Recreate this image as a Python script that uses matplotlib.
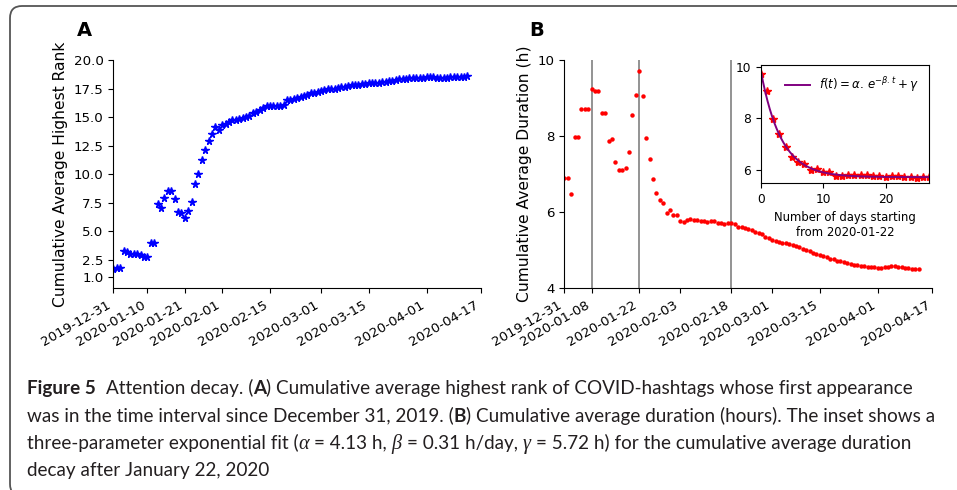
import numpy as np
import pandas as pd
import matplotlib
matplotlib.use("Agg")
import matplotlib.pyplot as plt
import matplotlib.dates as mdates
from matplotlib.patches import FancyBboxPatch
from matplotlib.transforms import IdentityTransform

# data (one value per day, starting 2019-12-31)
start = "2019-12-31"
rank = [1.69, 1.75, 1.80, 3.24, 3.20, 3.03, 3.03, 3.00, 2.90, 2.77,
        2.77, 3.94, 3.94, 7.38, 7.06, 7.93, 8.54, 8.54, 7.78, 6.68,
        6.59, 6.15, 6.73, 7.55, 9.15, 10.03, 11.25, 12.10, 12.86, 13.50,
        14.11, 13.88, 14.29, 14.40, 14.60, 14.75, 14.75, 14.85, 14.95, 15.00,
        15.05, 15.35, 15.40, 15.60, 15.75, 15.98, 16.00, 15.98, 16.00, 15.98,
        16.10, 16.50, 16.52, 16.55, 16.65, 16.75, 16.85, 16.95, 17.08, 17.12,
        17.20, 17.30, 17.35, 17.42, 17.45, 17.50, 17.55, 17.62, 17.65, 17.70,
        17.78, 17.82, 17.85, 17.88, 17.90, 17.95, 17.98, 18.00, 18.02, 18.05,
        18.10, 18.12, 18.15, 18.25, 18.30, 18.32, 18.35, 18.38, 18.40, 18.42,
        18.45, 18.46, 18.48, 18.50, 18.48, 18.45, 18.43, 18.42, 18.45, 18.48,
        18.50, 18.52, 18.53, 18.55, 18.57]
duration = [6.89, 6.89, 6.48, 7.98, 7.98, 8.72, 8.72, 8.72, 9.24, 9.19,
            9.19, 8.60, 8.60, 7.88, 7.93, 7.31, 7.10, 7.10, 7.15, 7.57,
            8.56, 9.09, 9.71, 9.05, 7.96, 7.39, 6.87, 6.50, 6.31, 6.23,
            5.99, 6.05, 5.93, 5.93, 5.78, 5.75, 5.80, 5.81, 5.80, 5.79,
            5.78, 5.76, 5.74, 5.77, 5.77, 5.72, 5.71, 5.70, 5.71, 5.72,
            5.70, 5.62, 5.60, 5.58, 5.55, 5.52, 5.48, 5.45, 5.43, 5.36,
            5.32, 5.28, 5.25, 5.22, 5.20, 5.18, 5.16, 5.14, 5.11, 5.08,
            5.04, 5.00, 4.97, 4.94, 4.91, 4.88, 4.84, 4.81, 4.78, 4.76,
            4.73, 4.71, 4.68, 4.66, 4.63, 4.61, 4.60, 4.59, 4.58, 4.57,
            4.56, 4.55, 4.54, 4.54, 4.55, 4.56, 4.58, 4.58, 4.57, 4.56,
            4.54, 4.53, 4.52, 4.51, 4.51]

ticks_a = ["2019-12-31", "2020-01-10", "2020-01-21", "2020-02-01", "2020-02-15",
           "2020-03-01", "2020-03-15", "2020-04-01", "2020-04-17"]
ticks_b = ["2019-12-31", "2020-01-08", "2020-01-22", "2020-02-03", "2020-02-18",
           "2020-03-01", "2020-03-15", "2020-04-01", "2020-04-17"]
yticks_a = [1.0, 2.5, 5.0, 7.5, 10.0, 12.5, 15.0, 17.5, 20.0]
yticks_b = [4, 6, 8, 10]
marks_b = ["2020-01-08", "2020-01-22", "2020-02-18"]
fit_start = "2020-01-22"
fit_days = 27
alpha, beta, gamma = 4.13, 0.31, 5.72

dates = pd.date_range(start, periods=len(rank), freq="D")
plt.rcParams["font.size"] = 9.6
plt.rcParams["axes.labelsize"] = 11.2

fig = plt.figure(figsize=(9.57, 4.9), dpi=100)

def date_axis(ax, ticks):
    ax.set_xlim(pd.Timestamp(ticks[0]), pd.Timestamp(ticks[-1]))
    ax.set_xticks(pd.to_datetime(ticks))
    ax.xaxis.set_major_formatter(mdates.DateFormatter("%Y-%m-%d"))
    for lab in ax.get_xticklabels():
        lab.set_rotation(30)
        lab.set_ha("right")
    ax.spines["top"].set_visible(False)
    ax.spines["right"].set_visible(False)

# panel A
axA = fig.add_axes([0.1184, 0.4116, 0.3842, 0.466])
axA.plot(dates, rank, ls="none", marker="*", ms=5.5, color="blue")
date_axis(axA, ticks_a)
axA.set_ylim(0, 20)
axA.set_yticks(yticks_a)
axA.set_ylabel("Cumulative Average Highest Rank")
fig.text(77 / 957, 1 - 30 / 490, "A", fontsize=14, fontweight="bold", va="center")

# panel B
axB = fig.add_axes([0.5897, 0.4116, 0.3845, 0.466])
for d in marks_b:
    axB.axvline(pd.Timestamp(d), color="grey", lw=1.2)
axB.plot(dates, duration, ls="none", marker="o", ms=3.2, mew=0, color="red")
date_axis(axB, ticks_b)
axB.set_ylim(4, 10)
axB.set_yticks(yticks_b)
axB.set_ylabel("Cumulative Average Duration (h)")
fig.text(529 / 957, 1 - 30 / 490, "B", fontsize=14, fontweight="bold", va="center")

# inset: decay after fit_start with exponential fit
i0 = list(dates).index(pd.Timestamp(fit_start))
t = np.arange(fit_days + 1)
y_in = duration[i0:i0 + fit_days + 1]
tf = np.linspace(0, fit_days, 300)
axI = fig.add_axes([0.7949, 0.6265, 0.1762, 0.2408])
axI.plot(t, y_in, ls="none", marker="*", ms=6, color="red")
axI.plot(tf, alpha * np.exp(-beta * tf) + gamma, color="purple", lw=1.4,
         label=r"$f(t) = \alpha.\, e^{-\beta.t} + \gamma$")
axI.set_xlim(0, fit_days)
axI.set_xticks([0, 10, 20])
axI.set_yticks([6, 8, 10])
axI.tick_params(labelsize=8.8)
axI.set_xlabel("Number of days starting\nfrom 2020-01-22", fontsize=8.4)
axI.legend(loc="upper right", frameon=False, handlelength=2.1, fontsize=8.5)

# rounded frame
frame = FancyBboxPatch((10, -6), 1000, 490, boxstyle="round,pad=0,rounding_size=12",
                       transform=IdentityTransform(), fill=False, ec="#555555", lw=1.3)
fig.patches.append(frame)

# caption, written run by run
cap_font = "Lato"
cap_size = 13.6
cap_color = "#231f20"
renderer = fig.canvas.get_renderer()

def text_w(s, **kw):
    tt = fig.text(0, 0, s, **kw)
    w = tt.get_window_extent(renderer).width
    tt.remove()
    return w

base = dict(family=cap_font, fontsize=cap_size, color=cap_color)
bold = dict(family=cap_font, fontsize=cap_size, fontweight="bold", color=cap_color)
greek = dict(family="Liberation Serif", fontsize=cap_size + 1, style="italic", color=cap_color)
sp = text_w("n n", **base) - text_w("nn", **base)

lines = [
    [("Figure 5", bold), 2, ("Attention decay. (", base), ("A", bold),
     (") Cumulative average highest rank of COVID-hashtags whose first appearance", base)],
    [("was in the time interval since December 31, 2019. (", base), ("B", bold),
     (") Cumulative average duration (hours). The inset shows a", base)],
    [("three-parameter exponential fit (", base), ("α", greek), 1, ("= 4.13 h,", base), 1,
     ("β", greek), 1, ("= 0.31 h/day,", base), 1, ("γ", greek), 1,
     ("= 5.72 h) for the cumulative average duration", base)],
    [("decay after January 22, 2020", base)],
]
baselines = [394, 421.5, 448.5, 475.5]
for yb, runs in zip(baselines, lines):
    x = 27.0
    for r in runs:
        if isinstance(r, int):
            x += r * sp
            continue
        s, kw = r
        tt = fig.text(x, 490 - yb, s, transform=IdentityTransform(), va="baseline", **kw)
        x += tt.get_window_extent(renderer).width

fig.savefig("out.png", dpi=100)
